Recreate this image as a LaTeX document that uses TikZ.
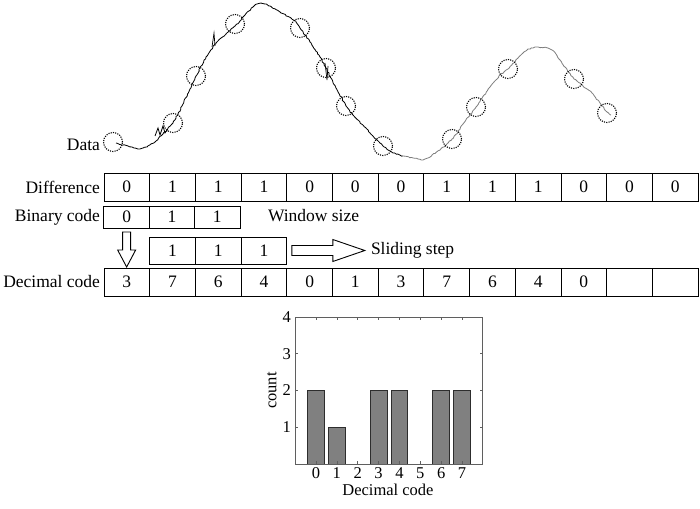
\documentclass[tikz,border=0pt]{standalone}
\usepackage{fontspec}
\setmainfont{Liberation Serif}
\usetikzlibrary{calc,decorations.pathmorphing}
\definecolor{barfill}{RGB}{128,128,128}
\definecolor{bardraw}{RGB}{45,45,45}
\definecolor{axisgray}{RGB}{95,95,95}
\definecolor{curvegray}{RGB}{125,125,125}
\begin{document}
\begin{tikzpicture}[x=1pt,y=-1pt,
  txt/.style={font=\fontsize{17.5}{20}\selectfont, inner sep=0pt, outer sep=0pt},
  htxt/.style={font=\fontsize{16.5}{18}\selectfont, inner sep=0pt, outer sep=0pt},
  cell/.style={txt, draw, line width=0.9pt, minimum width=45.7pt, minimum height=28pt},
  bcell/.style={cell, minimum height=22pt},
  scell/.style={cell, minimum height=27pt},
  rowlabel/.style={txt, anchor=east},
  probe/.style={circle, draw, line width=1.1pt, dash pattern=on 1.1pt off 1.2pt, minimum size=19pt, inner sep=0pt},
  hollow/.style={draw, line width=0.9pt, fill=white, line join=miter},
  noisy/.style={decorate, decoration={random steps, segment length=1.8pt, amplitude=0.55pt}, line width=0.8pt, line join=round},
  bar/.style={fill=barfill, draw=bardraw, line width=0.8pt},
]
\useasboundingbox (0,0) rectangle (700,508);
\pgfmathsetseed{7}

% ---------- data curve ----------
\draw[noisy, black] (116,143) -- (122,145) -- (128,146) -- (134,148) -- (140,149) -- (147,147) -- (155,142) -- (163,134)
 -- (173,123) -- (178,114) -- (183,104) -- (190,89) -- (196,76) -- (206,57) -- (216,43) -- (226,34) -- (235,26) -- (240,21) -- (245,15)
 -- (253,7) -- (257,4) -- (261,3) -- (265,4) -- (270,6) -- (280,12) -- (291,18) -- (296,22) -- (300,28) -- (305,35) -- (310,42) -- (320,57) -- (326,68)
 -- (331,78) -- (336,88) -- (346,106) -- (352,114) -- (358,120) -- (370,133) -- (383,146) -- (388,150) -- (393,153) -- (403,156);
\draw[noisy, curvegray] (403,156) -- (413,158) -- (418,159) -- (423,160) -- (428,158) -- (432,155) -- (440,150) -- (446,145) -- (452,139) -- (458,132) -- (463,124) -- (476,107)
 -- (490,87) -- (500,75) -- (508,69) -- (518,58) -- (523,53) -- (528,49) -- (533,48) -- (538,47) -- (548,48) -- (552,50) -- (556,54) -- (560,60)
 -- (565,67) -- (574,79) -- (583,86) -- (592,93) -- (600,103) -- (607,112) -- (611,115);
% small spikes
\draw[line width=0.8pt] (155,136) -- (158,128) -- (160,135) -- (163,126) -- (165,133) -- (167,130);
\draw[line width=0.7pt] (212,47) -- (214,33) -- (215,46);
\draw[line width=0.7pt] (325,63) -- (327,80) -- (328,66);

% ---------- probe circles ----------
\foreach \px/\py [count=\k] in {113/142,173/123,196/76,235/24,300/28,326/68,346/106,
   383/146,452/139,476/107,508/69,574/79,607/113}
  \node[probe] (p\k) at (\px,\py) {};

\node[txt, anchor=east] (datalbl) at (100,145) {Data};

% ---------- rows ----------
\node[rowlabel] (ldiff) at (100,187) {Difference};
\foreach \v [count=\i] in {0,1,1,1,0,0,0,1,1,1,0,0,0}
  \node[cell] (d\i) at ({104+(\i-0.5)*45.7},187) {\v};

\node[rowlabel] (lbin) at (100,217) {Binary code};
\foreach \v [count=\i] in {0,1,1}
  \node[bcell] (b\i) at ({104+(\i-0.5)*45.3},217) {\v};
\node[txt, anchor=west] (win) at (268,216) {Window size};

\foreach \v [count=\i] in {1,1,1}
  \node[scell] (s\i) at ({104+(\i+0.5)*45.7},250.5) {\v};
\node[txt, anchor=west] (slide) at (371,250) {Sliding step};

\node[rowlabel] (ldec) at (100,282) {Decimal code};
\foreach \v [count=\i] in {3,7,6,4,0,1,3,7,6,4,0,{},{}}
  \node[cell] (c\i) at ({104+(\i-0.5)*45.7},282) {\v};

% ---------- hollow arrows ----------
\draw[hollow] (b1.south) ++(-4,4) -- ++(0,18) -- ++(-5,0) -- ++(9,17) -- ++(9,-17) -- ++(-5,0) -- ++(0,-18) -- cycle;
\draw[hollow] (s3.east) ++(5,-5) -- ++(41,0) -- ++(0,-6) -- ++(32,11) -- ++(-32,11) -- ++(0,-6) -- ++(-41,0) -- cycle;

% ---------- histogram ----------
\begin{scope}[shift={(316,464)}, x=20.86pt, y=36.75pt]
  \foreach \n/\h in {0/2,1/1,3/2,4/2,6/2,7/2}
    \draw[bar] (\n-0.4,0) rectangle (\n+0.4,\h);
  \draw[axisgray, line width=0.9pt] (-1,0) rectangle (8,4);
  \foreach \n in {0,...,7} {
    \draw[axisgray, line width=0.7pt] (\n,0) -- ++(0,0.08);
    \draw[axisgray, line width=0.7pt] (\n,4) -- ++(0,-0.08);
    \node[htxt] (xt\n) at (\n,-0.25) {\n};
  }
  \foreach \m in {1,...,4} {
    \draw[axisgray, line width=0.7pt] (-1,\m) -- ++(0.15,0);
    \draw[axisgray, line width=0.7pt] (8,\m) -- ++(-0.15,0);
    \node[htxt, anchor=east] (yt\m) at (-1.2,\m) {\m};
  }
  \node[htxt, rotate=90] (ylab) at (-2.12,2.0) {count};
  \node[htxt] (xlab) at (3.45,-0.71) {Decimal code};
\end{scope}
\end{tikzpicture}
\end{document}
